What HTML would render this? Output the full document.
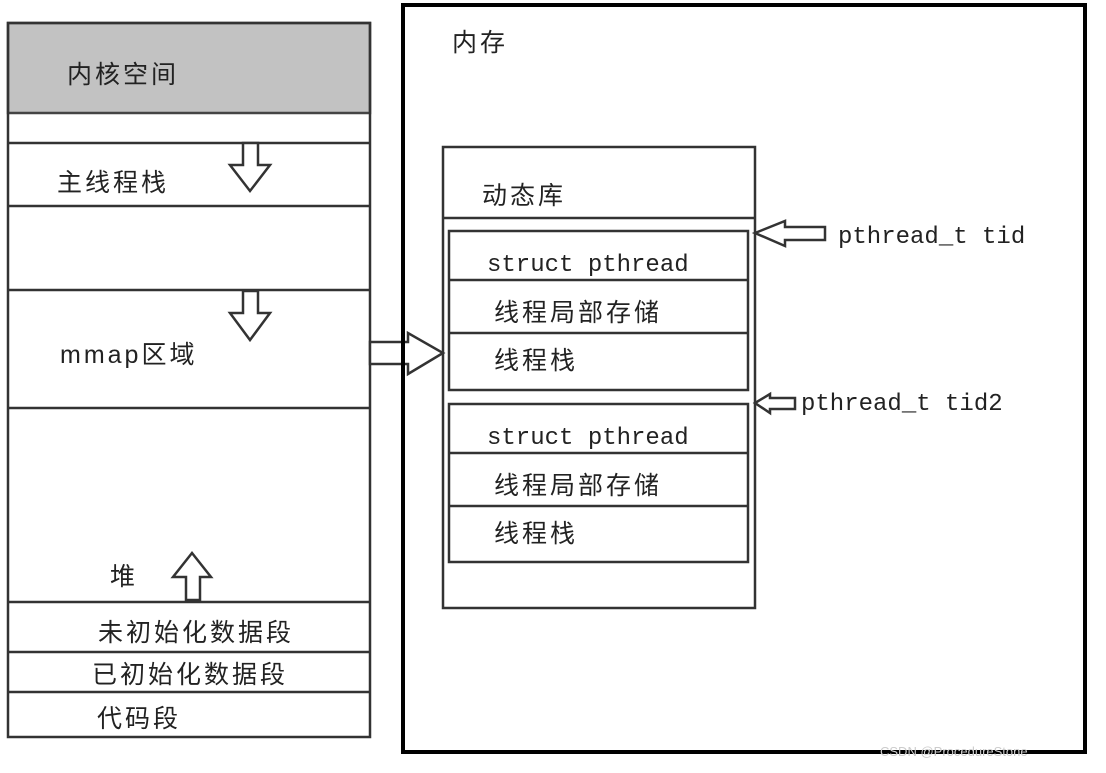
<!DOCTYPE html>
<html><head><meta charset="utf-8"><style>
body{margin:0;background:#fff}
text{font-family:"Liberation Sans","Noto Sans CJK SC",sans-serif;font-size:25px;letter-spacing:3px;fill:#222}
.m{font-family:"Liberation Mono","Noto Sans CJK SC",monospace;font-size:24px;letter-spacing:0}
</style></head><body>
<svg width="1106" height="768" viewBox="0 0 1106 768">
<g stroke="#333" fill="none" stroke-width="2.5">
<rect x="8" y="23" width="362" height="90" fill="#c2c2c2" stroke="#444"/>
<rect x="8" y="23" width="362" height="714"/>
<line x1="8" y1="143" x2="370" y2="143"/>
<line x1="8" y1="206" x2="370" y2="206"/>
<line x1="8" y1="290" x2="370" y2="290"/>
<line x1="8" y1="408" x2="370" y2="408"/>
<line x1="8" y1="602" x2="370" y2="602"/>
<line x1="8" y1="652" x2="370" y2="652"/>
<line x1="8" y1="692" x2="370" y2="692"/>
<path d="M243 143 H258 V165 H270 L250 191 L230 165 H243 Z" fill="#fff"/>
<path d="M243 291 H258 V313 H270 L250 340 L230 313 H243 Z" fill="#fff"/>
<path d="M186 600 H200 V577 H211 L192 553 L173 577 H186 Z" fill="#fff"/>
<rect x="443" y="147" width="312" height="461"/>
<line x1="443" y1="218" x2="755" y2="218"/>
<rect x="449" y="231" width="299" height="159"/>
<line x1="449" y1="280" x2="748" y2="280"/>
<line x1="449" y1="333" x2="748" y2="333"/>
<rect x="449" y="404" width="299" height="158"/>
<line x1="449" y1="453" x2="748" y2="453"/>
<line x1="449" y1="506" x2="748" y2="506"/>
<path d="M370 342 H408 V333 L443 353 L408 374 V364 H370 Z" fill="#fff"/>
<path d="M755 233 L785 221 V227 H825 V240 H785 V246 Z" fill="#fff"/>
<path d="M755 403 L770 394 V398 H795 V409 H770 V413 Z" fill="#fff"/>
</g>
<rect x="403" y="5" width="682" height="747" fill="none" stroke="#000" stroke-width="4"/>
<text x="67" y="83">内核空间</text>
<text x="57" y="191">主线程栈</text>
<text x="60" y="363">mmap区域</text>
<text x="110" y="585">堆</text>
<text x="98" y="641">未初始化数据段</text>
<text x="92" y="683">已初始化数据段</text>
<text x="97" y="727">代码段</text>
<text x="452" y="51">内存</text>
<text x="482" y="204">动态库</text>
<text class="m" x="487" y="271">struct pthread</text>
<text x="494" y="321">线程局部存储</text>
<text x="494" y="369">线程栈</text>
<text class="m" x="487" y="444">struct pthread</text>
<text x="494" y="494">线程局部存储</text>
<text x="494" y="542">线程栈</text>
<text class="m" x="838" y="243">pthread_t tid</text>
<text class="m" x="801" y="410">pthread_t tid2</text>
<text x="880" y="756" style="font-size:13px;letter-spacing:0;fill:#ccc">CSDN @ProcedureStone</text>
</svg>
</body></html>
